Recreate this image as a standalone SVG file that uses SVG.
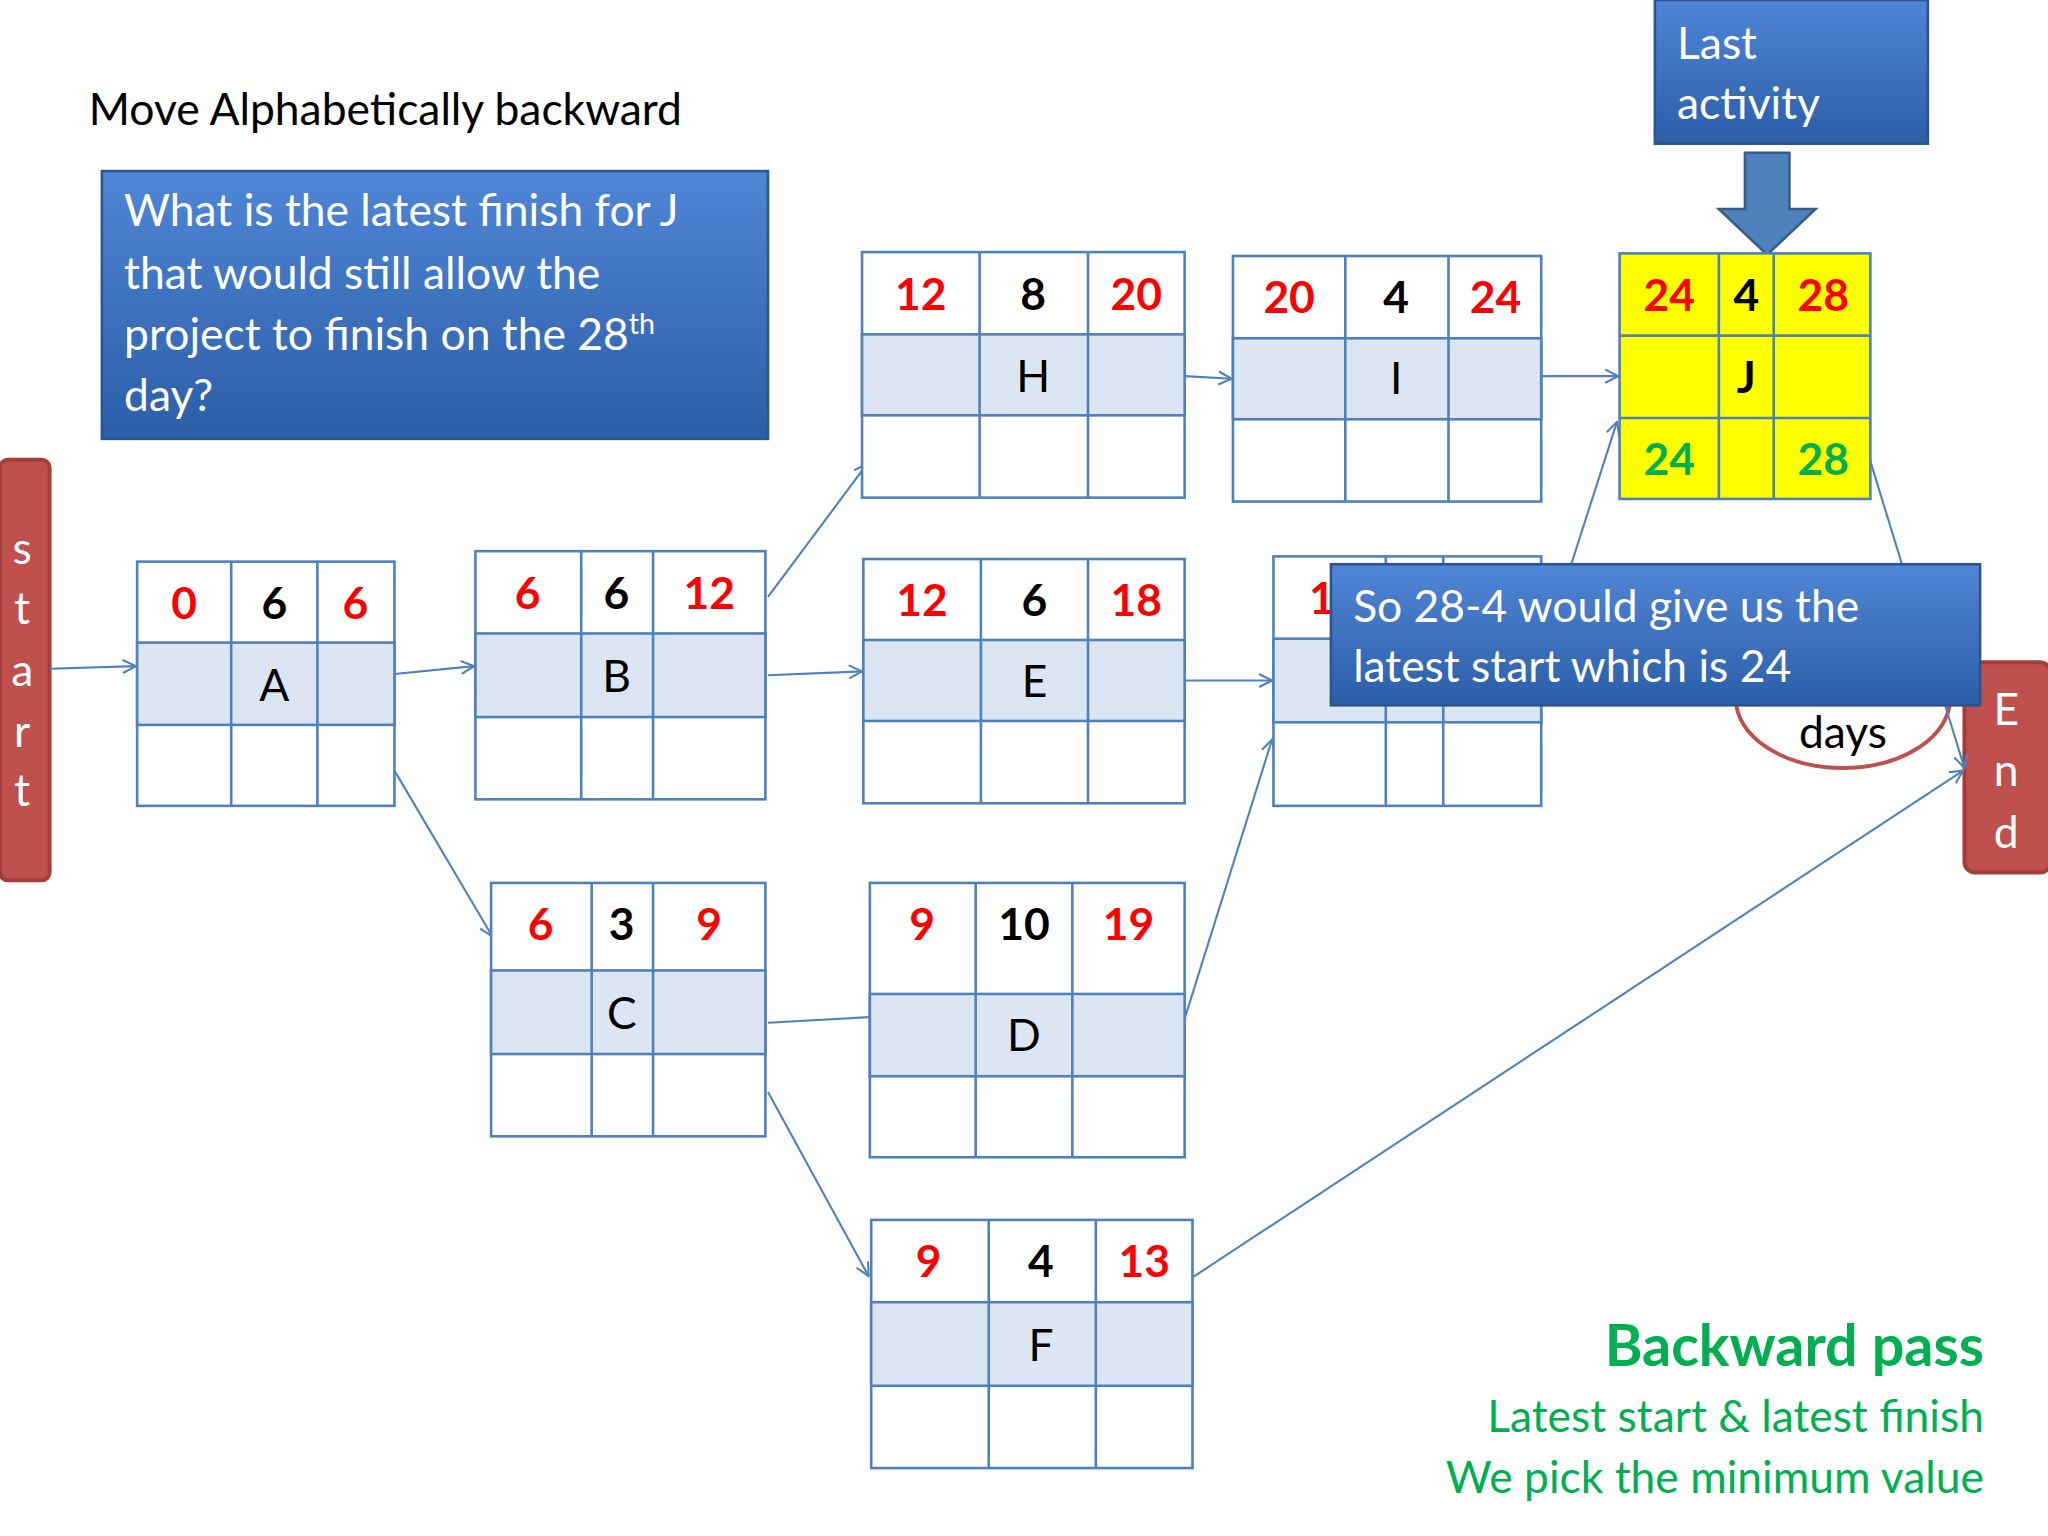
<svg xmlns="http://www.w3.org/2000/svg" width="2048" height="1536" viewBox="0 0 2048 1536">
<defs>
<style>
text{font-family:Lato,"Open Sans","Liberation Sans",sans-serif}
.g{fill:#fff;stroke:#4f81bd;stroke-width:2}
.m{fill:#dce6f2;stroke:#4f81bd;stroke-width:2}
.l{stroke:#4f81bd;stroke-width:2;fill:none}
.r{fill:#ff0000;font-weight:bold;font-size:34px;text-anchor:middle}
.k{fill:#000;font-weight:bold;font-size:34px;text-anchor:middle}
.n{fill:#000;font-size:34px;text-anchor:middle}
.gr{fill:#00b050;font-weight:bold;font-size:34px;text-anchor:middle}
.w{fill:#fff;font-size:34px}
.wc{fill:#fff;font-size:34px;text-anchor:middle}
.c{stroke:#4f81bd;stroke-width:1.6;fill:none;marker-end:url(#a)}
</style>
<marker id="a" viewBox="0 0 12 12" refX="11" refY="6" markerWidth="12" markerHeight="12" markerUnits="userSpaceOnUse" orient="auto"><path d="M1,1 L11,6 L1,11" fill="none" stroke="#4f81bd" stroke-width="1.6"/></marker>
<linearGradient id="bl" x1="0" y1="0" x2="0" y2="1"><stop offset="0" stop-color="#4f86d6"/><stop offset="1" stop-color="#2c5ea8"/></linearGradient>
</defs>
<rect width="2048" height="1536" fill="#fff"/>
<g transform="scale(1.30612)">
<text x="68" y="96" font-size="34" fill="#000">Move Alphabetically backward</text>
<g id="question">
<rect x="78" y="131" width="510" height="205" fill="url(#bl)" stroke="#2a5590" stroke-width="2"/>
<text class="w" x="95" y="173">What is the latest finish for J</text>
<text class="w" x="95" y="221">that would still allow the</text>
<text class="w" x="95" y="268">project to finish on the 28<tspan font-size="22" dy="-12">th</tspan></text>
<text class="w" x="95" y="315">day?</text>
</g>
<g id="last">
<rect x="1267" y="0" width="209" height="110" fill="url(#bl)" stroke="#2a5590" stroke-width="2"/>
<text class="w" x="1284" y="45">Last</text>
<text class="w" x="1284" y="91">activity</text>
<path d="M1336,117 H1370 V160 H1390 L1353,195 L1316,160 H1336 Z" fill="#4f81bd" stroke="#385d8a" stroke-width="2"/>
</g>
<g id="start">
<rect x="0" y="352" width="38" height="322" rx="6" fill="#c0504d" stroke="#a33e3b" stroke-width="3"/>
<text class="wc" x="17" y="432">s</text><text class="wc" x="17" y="478">t</text><text class="wc" x="17" y="525">a</text><text class="wc" x="17" y="572">r</text><text class="wc" x="17" y="617">t</text>
</g>
<g id="end">
<rect x="1504" y="507" width="66" height="161" rx="8" fill="#c0504d" stroke="#a33e3b" stroke-width="3"/>
<text class="wc" x="1536" y="555">E</text><text class="wc" x="1536" y="602">n</text><text class="wc" x="1536" y="649">d</text>
</g>
<g id="days">
<ellipse cx="1411" cy="535" rx="82" ry="53" fill="#fff" stroke="#c0504d" stroke-width="3"/>
<text class="n" x="1411" y="573">days</text>
</g>
<g id="connectors">
<path class="c" d="M38,512 L104,510"/>
<path class="c" d="M302,516 L363,510"/>
<path class="c" d="M302,590 L377,717"/>
<path class="c" d="M588,457 L664,355"/>
<path class="c" d="M588,517 L660,514"/>
<path class="c" d="M588,783 L679,778"/>
<path class="c" d="M588,836 L665,977"/>
<path class="c" d="M907,780 L974,566"/>
<path class="c" d="M907,521 L974,521"/>
<path class="c" d="M907,288 L943,290"/>
<path class="c" d="M1180,288 L1239,288"/>
<path class="c" d="M1203,432 L1238,323"/>
<path class="c" d="M1428,340 L1504,588"/>
<path class="c" d="M913,978 L1503,590"/>
</g>
<g id="A"><rect class="g" x="105" y="430" width="197" height="187"/><rect class="m" x="105" y="492" width="197" height="63"/><path class="l" d="M177,430V617M243,430V617"/><text class="r" x="141" y="474">0</text><text class="k" x="210" y="474">6</text><text class="r" x="272" y="474">6</text><text class="n" x="210" y="537">A</text></g>
<g id="B"><rect class="g" x="364" y="422" width="222" height="190"/><rect class="m" x="364" y="485" width="222" height="64"/><path class="l" d="M445,422V612M500,422V612"/><text class="r" x="404" y="466">6</text><text class="k" x="472" y="466">6</text><text class="r" x="543" y="466">12</text><text class="n" x="472" y="530">B</text></g>
<g id="C"><rect class="g" x="376" y="676" width="210" height="194"/><rect class="m" x="376" y="743" width="210" height="64"/><path class="l" d="M453,676V870M500,676V870"/><text class="r" x="414" y="720">6</text><text class="k" x="476" y="720">3</text><text class="r" x="543" y="720">9</text><text class="n" x="476" y="788">C</text></g>
<g id="H"><rect class="g" x="660" y="193" width="247" height="188"/><rect class="m" x="660" y="256" width="247" height="62"/><path class="l" d="M750,193V381M833,193V381"/><text class="r" x="705" y="237">12</text><text class="k" x="791" y="237">8</text><text class="r" x="870" y="237">20</text><text class="n" x="791" y="300">H</text></g>
<g id="I"><rect class="g" x="944" y="196" width="236" height="188"/><rect class="m" x="944" y="259" width="236" height="62"/><path class="l" d="M1030,196V384M1109,196V384"/><text class="r" x="987" y="240">20</text><text class="k" x="1069" y="240">4</text><text class="r" x="1145" y="240">24</text><text class="n" x="1069" y="302">I</text></g>
<g id="E"><rect class="g" x="661" y="428" width="246" height="187"/><rect class="m" x="661" y="490" width="246" height="62"/><path class="l" d="M751,428V615M833,428V615"/><text class="r" x="706" y="472">12</text><text class="k" x="792" y="472">6</text><text class="r" x="870" y="472">18</text><text class="n" x="792" y="534">E</text></g>
<g id="D"><rect class="g" x="666" y="676" width="241" height="210"/><rect class="m" x="666" y="761" width="241" height="63"/><path class="l" d="M747,676V886M821,676V886"/><text class="r" x="706" y="720">9</text><text class="k" x="784" y="720">10</text><text class="r" x="864" y="720">19</text><text class="n" x="784" y="805">D</text></g>
<g id="F"><rect class="g" x="667" y="934" width="246" height="190"/><rect class="m" x="667" y="997" width="246" height="64"/><path class="l" d="M757,934V1124M839,934V1124"/><text class="r" x="711" y="978">9</text><text class="k" x="797" y="978">4</text><text class="r" x="876" y="978">13</text><text class="n" x="797" y="1042">F</text></g>
<g id="G"><rect class="g" x="975" y="426" width="205" height="191"/><rect class="m" x="975" y="489" width="205" height="64"/><path class="l" d="M1061,426V617M1105,426V617"/><text class="r" x="1012" y="470">1</text></g>
<g id="J"><rect x="1240" y="194" width="192" height="188" fill="#ffff00" stroke="#4f81bd" stroke-width="2"/><path class="l" d="M1240,257H1432M1240,320H1432M1316,194V382M1358,194V382"/><text class="r" x="1278" y="238">24</text><text class="k" x="1337" y="238">4</text><text class="r" x="1396" y="238">28</text><text class="k" x="1337" y="301">J</text><text class="gr" x="1278" y="364">24</text><text class="gr" x="1396" y="364">28</text></g>
<g id="callout">
<rect x="1019" y="432" width="497" height="108" fill="url(#bl)" stroke="#2a5590" stroke-width="2"/>
<text class="w" x="1036" y="476">So 28-4 would give us the</text>
<text class="w" x="1036" y="522">latest start which is 24</text>
</g>
<g id="legend" text-anchor="end" fill="#00b050">
<text x="1519" y="1046" font-size="44" font-weight="bold">Backward pass</text>
<text x="1519" y="1096" font-size="34">Latest start &amp; latest finish</text>
<text x="1519" y="1143" font-size="34">We pick the minimum value</text>
</g>
</g>
</svg>
